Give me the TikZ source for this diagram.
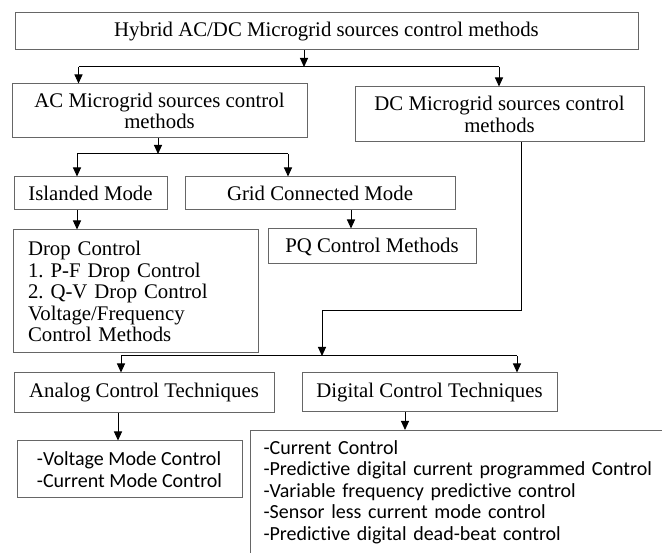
\documentclass[tikz,border=0pt]{standalone}
\usepackage{fontspec}
\setmainfont{Liberation Serif}
\newfontfamily\calibri[Ligatures=NoCommon]{Carlito}
\usepackage{tikz}
\usetikzlibrary{arrows.meta}
\frenchspacing

\tikzset{
	box/.style={draw=black!60, line width=1pt, inner sep=0pt, align=center, font=\fontsize{20.8}{21.5}\selectfont},
	listbox/.style={box, align=left, font=\calibri\fontsize{20}{21.5}\selectfont},
	arr/.style={-{Triangle[length=9pt,width=8pt]}, line width=1pt},
	link/.style={line width=1pt}
}

\begin{document}
\begin{tikzpicture}[x=1pt, y=-1pt]
			\useasboundingbox (0,0) rectangle (662,553);
			\clip (0,0) rectangle (662,553);
			
			\node[box, minimum width=623, minimum height=37] (H) at (326.5, 31.5) {Hybrid AC/DC Microgrid sources control methods};
			
			\node[box, minimum width=295, minimum height=54] (AC) at (159.5, 111) {AC Microgrid sources control\\methods};
			\node[box, minimum width=289, minimum height=55] (DC) at (499.5, 114.5) {DC Microgrid sources control\\methods};
			
			\node[box, minimum width=153, minimum height=33] (ISL) at (90.5, 193.5) {Islanded Mode};
			\node[box, minimum width=270, minimum height=33] (GRID) at (320, 193.5) {Grid Connected Mode};
			
			\node[box, align=left, text width=215, inner xsep=15, minimum height=123] (DROP) at (135.5, 291.5) {Drop Control\\1. P-F Drop Control\\2. Q-V Drop Control\\Voltage/Frequency\\Control Methods};
			\node[box, minimum width=208, minimum height=35] (PQ) at (372, 246.5) {PQ Control Methods};
			
			\node[box, minimum width=260, minimum height=40] (ANA) at (144, 393) {Analog Control Techniques};
			\node[box, minimum width=255, minimum height=39] (DIG) at (429.5, 392.5) {Digital Control Techniques};
			
			\node[listbox, minimum width=225, minimum height=57] (VM) at (129.5, 469.5) {-Voltage Mode Control\\-Current Mode Control};
			\node[listbox, anchor=north west, text width=430, inner xsep=13, inner ysep=10] (LIST) at (250, 430) {-Current Control\\-Predictive digital current programmed Control\\-Variable frequency predictive control\\-Sensor less current mode control\\-Predictive digital dead-beat control\rule[-15pt]{0pt}{15pt}};
			
			\coordinate (J1) at (304, 67);
			\coordinate (J1L) at (78.5, 67);
			\coordinate (J1R) at (499, 67);
			\coordinate (J2) at (158, 154);
			\coordinate (J2L) at (77, 154);
			\coordinate (J2R) at (288, 154);
			\coordinate (X3) at (351, 0);
			\coordinate (K1) at (521, 311);
			\coordinate (K2) at (322, 311);
			\coordinate (J3) at (322, 356);
			\coordinate (J3L) at (121, 356);
			\coordinate (J3R) at (517, 356);
			\coordinate (X4) at (118, 0);
			\coordinate (X5) at (405, 0);
			
			\draw[arr] (H.south -| J1) -- (J1);
			\draw[link] (J1L) -- (J1R);
			\draw[arr] (J1L) -- (J1L |- AC.north);
			\draw[arr] (J1R) -- (J1R |- DC.north);
			
			\draw[arr] (AC.south -| J2) -- (J2);
			\draw[link] (J2L) -- (J2R);
			\draw[arr] (J2L) -- (J2L |- ISL.north);
			\draw[arr] (J2R) -- (J2R |- GRID.north);
			\draw[arr] (ISL.south -| J2L) -- (J2L |- DROP.north);
			\draw[arr] (GRID.south -| X3) -- (PQ.north -| X3);
			
			\draw[link] (DC.south -| K1) -- (K1) -- (K2);
			\draw[arr] (K2) -- (J3);
			\draw[link] (J3L) -- (J3R);
			\draw[arr] (J3L) -- (J3L |- ANA.north);
			\draw[arr] (J3R) -- (J3R |- DIG.north);
			\draw[arr] (ANA.south -| X4) -- (VM.north -| X4);
			\draw[arr] (DIG.south -| X5) -- (LIST.north -| X5);
		\end{tikzpicture}
\end{document}
